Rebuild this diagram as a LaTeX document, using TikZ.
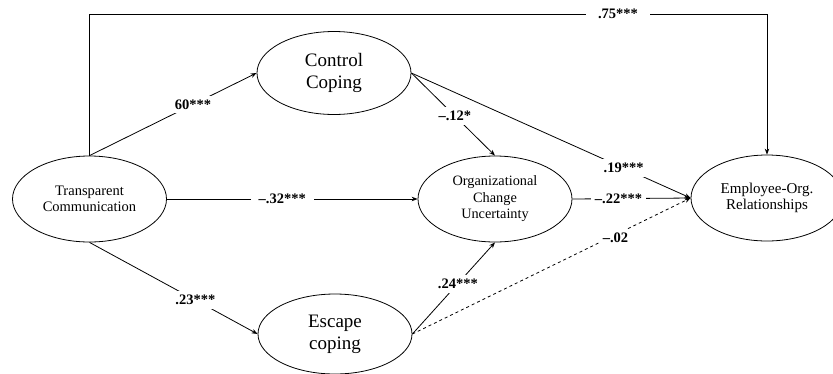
\documentclass[tikz,border=0pt]{standalone}
\usepackage{fontspec}
\setmainfont{Liberation Serif}
\usetikzlibrary{arrows.meta,shapes.geometric}

\begin{document}
\begin{tikzpicture}[x=1pt, y=-1pt,
    construct/.style={draw, ellipse, line width=0.8pt, inner sep=0pt,
                      minimum width=154pt, minimum height=86pt, align=center},
    big/.style={font=\fontsize{19}{22}\selectfont},
    small/.style={font=\fontsize{14.5}{16}\selectfont},
    coef/.style={fill=white, inner sep=4pt, font=\fontsize{14.5}{16}\selectfont\bfseries},
    arr/.style={-{Stealth[length=6pt, width=4.5pt]}, line width=0.8pt}
  ]
    \useasboundingbox (0,0) rectangle (833,373);

    % Exogenous variable
    \node[construct, small] (tc) at (89.5, 199)
      {Transparent\\Communication};

    % Coping strategies
    \node[construct, big, minimum height=83pt] (cc) at (334, 73)
      {Control\\Coping};
    \node[construct, big, minimum height=80pt] (esc) at (335, 334)
      {Escape\\coping};

    % Mediator
    \node[construct, font=\fontsize{14.3}{16.5}\selectfont] (ocu) at (495, 199)
      {Organizational\\Change\\Uncertainty};

    % Outcome
    \node[construct, font=\fontsize{15}{16.5}\selectfont, minimum width=152pt] (eor) at (767, 198)
      {Employee-Org.\\Relationships};

    % Direct path over the top
    \coordinate (top) at (0, 14);
    \draw[arr] (tc.north) -- (tc.north |- top)
      -- node[coef, pos=0.78, inner xsep=12pt] {.75***} (eor.north |- top)
      -- (eor.north);

    % Paths from communication
    \draw[arr] (tc.north) -- node[coef, pos=0.62] {60***} (cc.west);
    \draw[arr] (tc.east) -- node[coef, pos=0.46, inner xsep=8pt] {--.32***} (ocu.west);
    \draw[arr] (tc.south) -- node[coef, pos=0.63] {.23***} (esc.west);

    % Paths from coping
    \draw[arr] (cc.east) -- node[coef, pos=0.52] {--.12*} (ocu.north);
    \draw[arr] (cc.east) -- node[coef, pos=0.76] {.19***} (eor.west);
    \draw[arr] (esc.east) -- node[coef, pos=0.55] {.24***} (ocu.south);
    \draw[arr, dashed] (esc.east) -- node[coef, pos=0.73, yshift=-3pt] {--.02} (eor.west);

    % Uncertainty to outcome
    \draw[arr] (ocu.east) -- node[coef, pos=0.39] {--.22***} (eor.west);
  \end{tikzpicture}
\end{document}
